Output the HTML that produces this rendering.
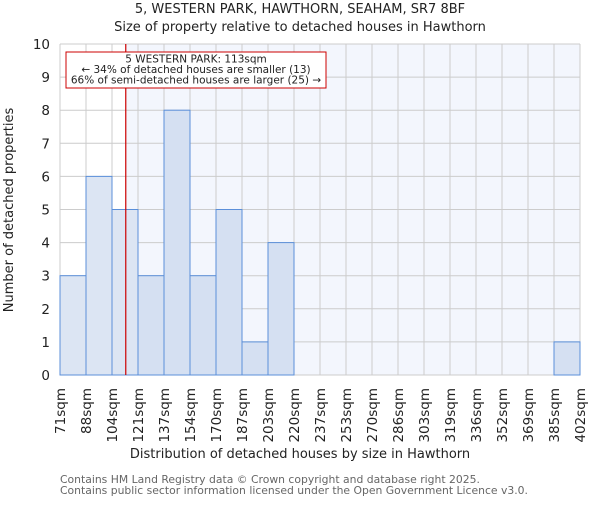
<!DOCTYPE html>
<html><head><meta charset="utf-8"><style>
body{margin:0;background:#fff;}
svg text{font-family:"DejaVu Sans","Liberation Sans",sans-serif;}
</style></head><body>
<svg width="600" height="500" xmlns="http://www.w3.org/2000/svg">
<g id="root"></g>
</svg>
<script>
const binLabels=["71sqm","88sqm","104sqm","121sqm","137sqm","154sqm","170sqm","187sqm","203sqm","220sqm","237sqm","253sqm","270sqm","286sqm","303sqm","319sqm","336sqm","352sqm","369sqm","385sqm","402sqm"];
const binEdges=[71,88,104,121,137,154,170,187,203,220,237,253,270,286,303,319,336,352,369,385,402];
const counts=[3,6,5,3,8,3,5,1,4,0,0,0,0,0,0,0,0,0,0,1];
const yTicks=[0,1,2,3,4,5,6,7,8,9,10];
const propertySize=113;
const L=60,R=580,T=44,B=375,yMax=10;
const nb=counts.length;
function xi(i){return L+(R-L)*i/nb;}
function xv(v){for(let i=0;i<binEdges.length-1;i++){if(v<=binEdges[i+1]){return xi(i)+(xi(i+1)-xi(i))*(v-binEdges[i])/(binEdges[i+1]-binEdges[i]);}}return R;}
function y(v){return B-(B-T)*v/yMax;}
const NS="http://www.w3.org/2000/svg";
const root=document.getElementById('root');
function mk(tag,attrs,txt){const e=document.createElementNS(NS,tag);for(const k in attrs)e.setAttribute(k,attrs[k]);if(txt!==undefined)e.textContent=txt;root.appendChild(e);return e;}
let e;
const px=xv(propertySize);
e=mk('rect',{x:px,y:T,width:R-px,height:B-T,fill:'#f3f6fd'});


for(const t of yTicks){e=mk('line',{x1:L,x2:R,y1:y(t),y2:y(t),stroke:'#cccccc','stroke-width':1});

}
for(let i=0;i<=nb;i++){e=mk('line',{x1:xi(i),x2:xi(i),y1:T,y2:B,stroke:'#cccccc','stroke-width':1});

}
for(let i=0;i<nb;i++){if(counts[i]<=0)continue;
const mid=(binEdges[i]+binEdges[i+1])/2;
e=mk('rect',{x:xi(i),y:y(counts[i]),width:xi(i+1)-xi(i),height:B-y(counts[i]),fill:mid<propertySize?'#dce5f3':'#d5e0f2',stroke:'#5b8fd9','stroke-width':1});

}
e=mk('line',{x1:px,x2:px,y1:T,y2:B,stroke:'#cc0000','stroke-width':1.2});


for(const t of yTicks){e=mk('text',{x:L-10,y:y(t)+5,'text-anchor':'end','font-size':13.5,fill:'#222'},String(t));

}
for(let i=0;i<binLabels.length;i++){const xx=xi(i);e=mk('text',{x:0,y:0,transform:'translate('+(xx+5)+',388) rotate(-90)','text-anchor':'end','font-size':13.5,fill:'#222'},binLabels[i]);

}
e=mk('rect',{x:66,y:52,width:260,height:36,fill:'#fff',stroke:'#cc0000','stroke-width':1});


const ann=["5 WESTERN PARK: 113sqm","\u2190 34% of detached houses are smaller (13)","66% of semi-detached houses are larger (25) \u2192"];
ann.forEach((s,k)=>{e=mk('text',{x:196,y:62.5+k*10.5,'text-anchor':'middle','font-size':10.5,fill:'#222'},s);

});
e=mk('text',{x:300,y:13,'text-anchor':'middle','font-size':13,fill:'#222'},"5, WESTERN PARK, HAWTHORN, SEAHAM, SR7 8BF");


e=mk('text',{x:300,y:31,'text-anchor':'middle','font-size':13,fill:'#222'},"Size of property relative to detached houses in Hawthorn");


e=mk('text',{x:300,y:458,'text-anchor':'middle','font-size':13,fill:'#222'},"Distribution of detached houses by size in Hawthorn");


e=mk('text',{x:0,y:0,transform:'translate(13,210) rotate(-90)','text-anchor':'middle','font-size':13,fill:'#222'},"Number of detached properties");


e=mk('text',{x:60,y:483,'font-size':10.8,fill:'#666'},"Contains HM Land Registry data \u00a9 Crown copyright and database right 2025.");


e=mk('text',{x:60,y:494,'font-size':10.8,fill:'#666'},"Contains public sector information licensed under the Open Government Licence v3.0.");


</script>
</body></html>
